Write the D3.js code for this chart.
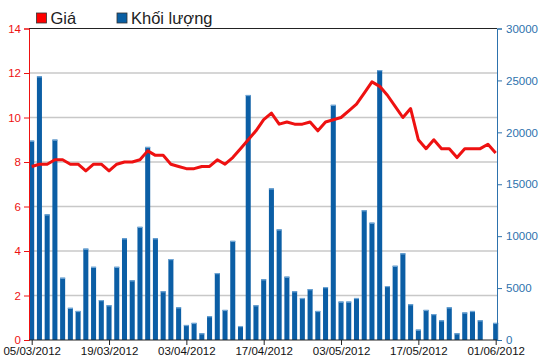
<!DOCTYPE html>
<html>
<head>
<meta charset="utf-8">
<script src="https://cdn.jsdelivr.net/npm/d3@7"></script>
<style>
  body { margin: 0; background: #fff; }
  svg text { font-family: "Liberation Sans", Arial, sans-serif; }
</style>
</head>
<body>
<div class="svg-container"></div>
<script>
// price (left axis) and volume (right axis), one value per trading day
const price = [7.8, 7.9, 7.9, 8.1, 8.1, 7.9, 7.9, 7.6, 7.9, 7.9,
  7.6, 7.9, 8.0, 8.0, 8.1, 8.5, 8.3, 8.3, 7.9, 7.8,
  7.7, 7.7, 7.8, 7.8, 8.1, 7.9, 8.2, 8.6, 9.0, 9.4,
  9.9, 10.2, 9.7, 9.8, 9.7, 9.7, 9.8, 9.4, 9.8, 9.9,
  10.0, 10.3, 10.6, 11.1, 11.6, 11.4, 11.0, 10.5, 10.0, 10.4,
  9.0, 8.6, 9.0, 8.6, 8.6, 8.2, 8.6, 8.6, 8.6, 8.8, 8.4];
const volume = [19200, 25400, 12100, 19300, 6000, 3100, 2800, 8800, 7050, 3850,
  3350, 7050, 9800, 5750, 10900, 18600, 9800, 4700, 7800, 3150,
  1450, 1650, 650, 2300, 6450, 2900, 9550, 1350, 23600, 3350,
  5850, 14600, 10650, 6100, 4700, 4050, 4900, 2800, 5100, 22650,
  3700, 3700, 4050, 12500, 11300, 26000, 5200, 7150, 8350, 3450,
  1000, 2900, 2500, 1900, 3150, 650, 2650, 2800, 1900, 0, 1650];
const tickLabels = ["05/03/2012", "19/03/2012", "03/04/2012", "17/04/2012",
  "03/05/2012", "17/05/2012", "01/06/2012"];
const tickEvery = 10;
const priceTicks = [0, 2, 4, 6, 8, 10, 12, 14];
const volumeTicks = [0, 5000, 10000, 15000, 20000, 25000, 30000];

const width = 550, height = 364;
const mLeft = 29, mRight = 497, mTop = 28.5, mBottom = 340;
const red = "#ee1111", blue = "#0b5ea5", axisBlue = "#2d72ad";

const svg = d3.select(".svg-container").append("svg")
  .attr("width", width).attr("height", height);

const idx = d3.range(price.length);
const step = 7.733;
const x = d3.scaleBand().domain(idx)
  .range([31.7 - step / 2, 31.7 + step * (idx.length - 0.5)])
  .paddingInner(0.35).paddingOuter(0.175);
const cx = i => x(i) + x.bandwidth() / 2;
const yP = d3.scaleLinear().domain([0, 14]).range([mBottom, mTop]);
const yV = d3.scaleLinear().domain([0, 30000]).range([mBottom, mTop]);

// grid
svg.append("g").selectAll("line").data(priceTicks.slice(1, -1)).enter().append("line")
  .attr("x1", mLeft).attr("x2", mRight)
  .attr("y1", d => yP(d)).attr("y2", d => yP(d))
  .attr("stroke", "#c8c8c8").attr("stroke-width", 1.3);

// bars
const bars = svg.append("g").selectAll("g").data(idx.filter(i => volume[i] > 0)).enter().append("g");
bars.append("rect")
  .attr("x", i => x(i)).attr("width", x.bandwidth())
  .attr("y", i => yV(volume[i])).attr("height", i => mBottom - yV(volume[i]))
  .attr("fill", blue);
bars.append("rect")
  .attr("x", i => x(i)).attr("width", x.bandwidth())
  .attr("y", i => yV(volume[i])).attr("height", 1.2)
  .attr("fill", "#6fa6d6");

// price line
svg.append("path").datum(idx)
  .attr("d", d3.line().x(i => cx(i)).y(i => yP(price[i])))
  .attr("fill", "none").attr("stroke", red).attr("stroke-width", 3)
  .attr("stroke-linejoin", "round");

// frame top
svg.append("line").attr("x1", mLeft).attr("x2", mRight).attr("y1", mTop).attr("y2", mTop)
  .attr("stroke", "#222").attr("stroke-width", 1);

// left axis
const gl = svg.append("g").attr("transform", "translate(" + mLeft + ",0)")
  .call(d3.axisLeft(yP).tickValues(priceTicks).tickSize(5).tickPadding(3));
gl.selectAll("path, line").attr("stroke", red);
gl.selectAll("text").attr("fill", red).attr("font-size", "11.5px");

// right axis
const gr = svg.append("g").attr("transform", "translate(" + mRight + ",0)")
  .call(d3.axisRight(yV).tickValues(volumeTicks).tickFormat(d3.format("d"))
    .tickSize(5).tickPadding(4));
gr.selectAll("path, line").attr("stroke", axisBlue);
gr.selectAll("text").attr("fill", axisBlue).attr("font-size", "11.5px");

// bottom axis
const xt = d3.scaleLinear().domain([0, idx.length - 1]).range([cx(0), cx(idx.length - 1)]);
const gb = svg.append("g").attr("transform", "translate(0," + mBottom + ")")
  .call(d3.axisBottom(xt).tickValues(tickLabels.map((d, k) => k * tickEvery))
    .tickFormat((d, k) => tickLabels[k]).tickSize(5).tickSizeOuter(0).tickPadding(2));
gb.select("path").attr("d", "M" + mLeft + ",0H" + mRight).attr("stroke", "#222");
gb.selectAll("line").attr("stroke", "#222");
gb.selectAll("text").attr("fill", "#111").attr("font-size", "11.5px");

// legend
const legend = [{name: "Giá", color: "#ff0000", x: 36.5}, {name: "Khối lượng", color: "#0a5fa3", x: 117}];
const lg = svg.append("g").selectAll("g").data(legend).enter().append("g")
  .attr("transform", d => "translate(" + d.x + ",13)");
lg.append("rect").attr("width", 10).attr("height", 10)
  .attr("fill", d => d.color).attr("stroke", "#333").attr("stroke-width", 0.8);
lg.append("text").attr("x", 14).attr("y", 11).attr("font-size", "16.5px").attr("fill", "#222")
  .text(d => d.name);
</script>
</body>
</html>
